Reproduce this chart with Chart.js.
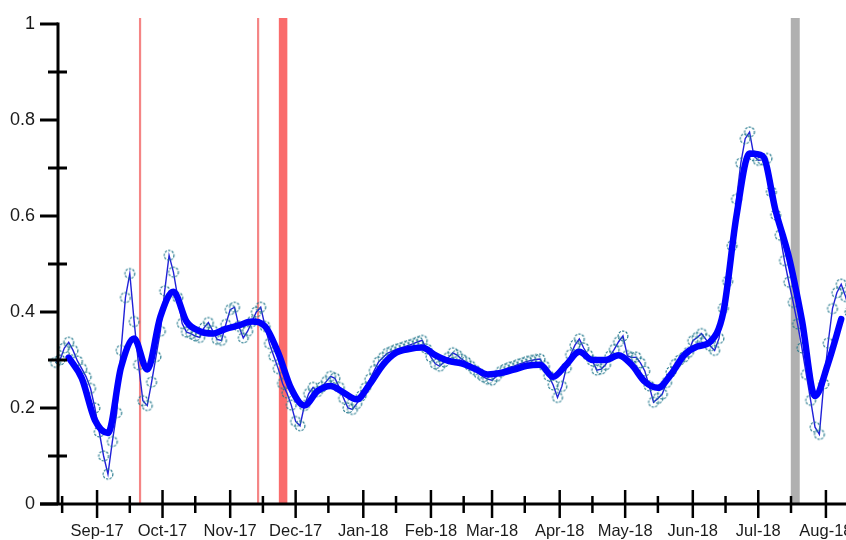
<!DOCTYPE html>
<html><head><meta charset="utf-8">
<style>html,body{margin:0;padding:0;background:#fff;}canvas{display:block;}</style>
<script src="https://cdn.jsdelivr.net/npm/chart.js@4.4.1/dist/chart.umd.min.js"></script>
</head><body>
<canvas id="c" width="846" height="540"></canvas>
<script>
// x values are days counted from 1 Sep 2017 (day 0)
const monthDays = [0, 30, 61, 91, 122, 153, 181, 212, 242, 273, 303, 334];
const monthLabels = ['Sep-17','Oct-17','Nov-17','Dec-17','Jan-18','Feb-18','Mar-18','Apr-18','May-18','Jun-18','Jul-18','Aug-18'];
const minorDays = [-16, 15, 45, 76, 106, 137, 168, 196, 227, 257, 288, 318, 349];
const yTickValues = [0, 0.1, 0.2, 0.3, 0.4, 0.5, 0.6, 0.7, 0.8, 0.9, 1];
const yTickLabels = ['0', '', '0.2', '', '0.4', '', '0.6', '', '0.8', '', '1'];
const xRange = [-17.9, 343.2];

// raw series, one value every 2 days starting at day -19
const rawStartDay = -19, rawStepDays = 2;
const rawValues = [
 0.295,0.30,0.325,0.337,0.32,0.298,0.282,0.265,0.241,0.20,
 0.15,0.10,0.062,0.13,0.19,0.32,0.43,0.48,0.38,0.29,
 0.215,0.205,0.254,0.307,0.36,0.444,0.518,0.483,0.43,0.376,
 0.358,0.355,0.35,0.347,0.367,0.378,0.361,0.343,0.341,0.374,
 0.405,0.41,0.37,0.346,0.36,0.38,0.40,0.41,0.37,0.334,
 0.308,0.282,0.251,0.231,0.206,0.172,0.163,0.205,0.23,0.243,
 0.234,0.244,0.255,0.266,0.262,0.243,0.22,0.20,0.197,0.209,
 0.225,0.242,0.26,0.278,0.296,0.305,0.314,0.318,0.322,0.325,
 0.328,0.331,0.334,0.338,0.341,0.323,0.306,0.292,0.287,0.296,
 0.305,0.315,0.31,0.302,0.296,0.288,0.279,0.272,0.265,0.26,
 0.258,0.266,0.276,0.281,0.285,0.287,0.291,0.294,0.297,0.299,
 0.301,0.302,0.287,0.267,0.248,0.222,0.245,0.283,0.311,0.331,
 0.344,0.325,0.31,0.298,0.279,0.281,0.29,0.308,0.322,0.338,
 0.35,0.309,0.305,0.306,0.294,0.277,0.246,0.212,0.22,0.229,
 0.253,0.275,0.291,0.30,0.306,0.316,0.34,0.347,0.355,0.343,
 0.329,0.32,0.345,0.408,0.464,0.538,0.635,0.71,0.761,0.775,
 0.725,0.716,0.717,0.72,0.65,0.602,0.56,0.507,0.462,0.42,
 0.375,0.325,0.27,0.216,0.16,0.145,0.25,0.335,0.407,0.44,
 0.458,0.432,0.40
];

// smoothed series, one value every 6 days starting at day -13
const smoothStartDay = -13, smoothStepDays = 6;
const smoothValues = [
 0.305,0.262,0.175,0.148,0.285,0.345,0.28,0.39,0.442,0.38,
 0.36,0.355,0.365,0.372,0.38,0.37,0.315,0.24,0.205,0.235,
 0.246,0.232,0.218,0.25,0.29,0.315,0.323,0.326,0.31,0.298,
 0.293,0.282,0.27,0.273,0.28,0.288,0.29,0.265,0.29,0.317,
 0.30,0.30,0.31,0.29,0.255,0.242,0.27,0.31,0.328,0.338,
 0.40,0.60,0.73,0.725,0.61,0.515,0.383,0.225,0.293,0.385
];

// event markers: [start day, end day], kind
const eventStart = [19.2, 73.3, 83.3, 317.9];
const eventEnd   = [20.2, 74.3, 87.2, 322.0];
const eventKind  = ['line', 'line', 'band', 'grey'];
const eventTopValue = 1.0125;

const rawPoints = rawValues.map((v, i) => ({x: rawStartDay + i * rawStepDays, y: v}));
const smoothPoints = smoothValues.map((v, i) => ({x: smoothStartDay + i * smoothStepDays, y: v}));

const eventColors = {line: 'rgba(244,120,120,0.9)', band: 'rgb(250,108,108)', grey: 'rgb(176,176,176)'};

function dashedCircle() {
  const s = 14, c = document.createElement('canvas');
  c.width = s; c.height = s;
  const g = c.getContext('2d');
  g.strokeStyle = '#267a8e'; g.lineWidth = 1.15; g.setLineDash([2.3, 1.3]);
  g.beginPath(); g.arc(s / 2, s / 2, 4.9, 0, Math.PI * 2); g.stroke();
  return c;
}

const axesPlugin = {
  id: 'axesPlugin',
  beforeDatasetsDraw(chart) {
    const ctx = chart.ctx, xs = chart.scales.x, ys = chart.scales.y, a = chart.chartArea;
    const top = ys.getPixelForValue(eventTopValue);
    ctx.save();
    eventStart.forEach((s, i) => {
      const x0 = xs.getPixelForValue(s), x1 = xs.getPixelForValue(eventEnd[i]);
      ctx.fillStyle = eventColors[eventKind[i]];
      ctx.fillRect(x0, top, Math.max(x1 - x0, 1), a.bottom - top);
    });
    ctx.restore();
  },
  afterDatasetsDraw(chart) {
    const ctx = chart.ctx, xs = chart.scales.x, ys = chart.scales.y, a = chart.chartArea;
    ctx.save();
    ctx.strokeStyle = '#000'; ctx.lineCap = 'butt';
    ctx.lineWidth = 3;
    ctx.beginPath(); ctx.moveTo(a.left, ys.getPixelForValue(1) - 1.5); ctx.lineTo(a.left, a.bottom); ctx.stroke();
    ctx.beginPath(); ctx.moveTo(a.left - 18, a.bottom); ctx.lineTo(chart.width, a.bottom); ctx.stroke();
    yTickValues.forEach((v, i) => {
      const y = ys.getPixelForValue(v);
      ctx.beginPath();
      if (yTickLabels[i] !== '') { ctx.moveTo(a.left - 18, y); ctx.lineTo(a.left, y); }
      else { ctx.moveTo(a.left - 10, y); ctx.lineTo(a.left + 9, y); }
      ctx.stroke();
    });
    ctx.lineWidth = 2.5;
    monthDays.forEach(d => {
      const x = xs.getPixelForValue(d);
      ctx.beginPath(); ctx.moveTo(x, a.bottom - 14); ctx.lineTo(x, a.bottom + 14); ctx.stroke();
    });
    minorDays.forEach(d => {
      const x = xs.getPixelForValue(d);
      if (x > chart.width) return;
      ctx.beginPath(); ctx.moveTo(x, a.bottom - 8); ctx.lineTo(x, a.bottom + 9); ctx.stroke();
    });
    ctx.restore();
  }
};

const font = "'Liberation Sans', Arial, Helvetica, sans-serif";

new Chart(document.getElementById('c'), {
  type: 'line',
  data: {
    datasets: [
      {
        label: 'smoothed', data: smoothPoints,
        borderColor: '#0000ff', borderWidth: 6.5, pointRadius: 0,
        cubicInterpolationMode: 'monotone', fill: false, clip: false,
        borderCapStyle: 'round', borderJoinStyle: 'round'
      },
      {
        label: 'raw', data: rawPoints,
        borderColor: '#2020d8', borderWidth: 1.4, tension: 0, fill: false,
        pointStyle: dashedCircle(), pointRadius: 4.9, clip: false
      }
    ]
  },
  options: {
    responsive: false, animation: false,
    layout: {autoPadding: false, padding: {top: 24, left: 0, right: 0, bottom: 0}},
    plugins: {legend: {display: false}, tooltip: {enabled: false}},
    scales: {
      x: {
        type: 'linear', min: xRange[0], max: xRange[1],
        afterBuildTicks: s => { s.ticks = monthDays.map(v => ({value: v})); },
        ticks: {
          autoSkip: false, maxRotation: 0, minRotation: 0, padding: 18,
          color: '#1a1a1a', font: {family: font, size: 16.5},
          callback: v => monthLabels[monthDays.indexOf(v)]
        },
        grid: {display: false, drawTicks: false}, border: {display: false},
        afterFit: s => { s.height = 36; s.paddingLeft = 0; s.paddingRight = 0; }
      },
      y: {
        min: 0, max: 1,
        afterBuildTicks: s => { s.ticks = yTickValues.map(v => ({value: v})); },
        ticks: {
          autoSkip: false, padding: 23, color: '#1a1a1a', font: {family: font, size: 18},
          callback: v => yTickLabels[yTickValues.indexOf(v)]
        },
        grid: {display: false, drawTicks: false}, border: {display: false},
        afterFit: s => { s.width = 58; s.paddingTop = 0; s.paddingBottom = 0; }
      }
    }
  },
  plugins: [axesPlugin]
});
</script>
</body></html>
